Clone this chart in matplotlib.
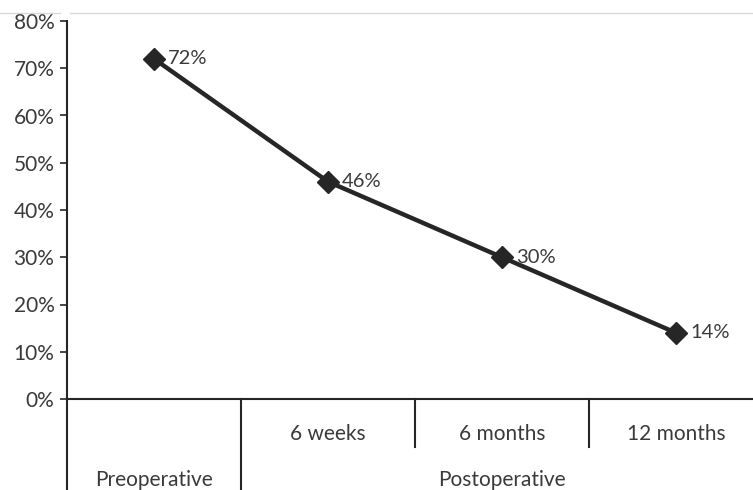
import matplotlib
matplotlib.use("Agg")
import matplotlib.pyplot as plt
from matplotlib.lines import Line2D
from matplotlib.transforms import blended_transform_factory

periods = ["Preoperative", "6 weeks", "6 months", "12 months"]
values = [72, 46, 30, 14]
group_labels = ["Preoperative", "Postoperative"]
yticks = [0, 10, 20, 30, 40, 50, 60, 70, 80]

plt.rcParams['font.family'] = ['Lato', 'DejaVu Sans']
text_color = "#3a3a3a"
line_color = "#262626"
fs = 15

W, H = 753, 490
fig = plt.figure(figsize=(W / 100, H / 100), dpi=100)
ax = fig.add_axes([67 / W, 1 - 399 / H, 696 / W, 378 / H])

x = list(range(len(periods)))
ax.plot(x, values, color=line_color, lw=3.2, marker="D", markersize=11.5,
        markerfacecolor=line_color, markeredgecolor=line_color, clip_on=False, zorder=3)
for xi, v in zip(x, values):
    ax.annotate(f"{v}%", (xi, v), xytext=(10, 0), textcoords="offset points",
                ha="left", va="center", fontsize=fs - 0.5, color=text_color)

ax.set_xlim(-0.5, len(periods) - 0.5)
ax.set_ylim(0, 80)
ax.set_yticks(yticks)
ax.set_yticklabels([f"{t}%" for t in yticks], fontsize=fs, color=text_color)
ax.tick_params(axis="y", direction="out", length=5, width=1.2, color=line_color, pad=4)
ax.set_xticks([])
for s in ["top", "right"]:
    ax.spines[s].set_visible(False)
ax.spines["left"].set_linewidth(1.5)
ax.spines["left"].set_color(line_color)
ax.spines["bottom"].set_linewidth(1.5)
ax.spines["bottom"].set_color(line_color)

# Category axis: dividers and two-level labels below the plot
tr = blended_transform_factory(ax.transData, fig.transFigure)
y0 = 1 - 399 / H
y_mid = 1 - 447 / H
for b in [-0.5, 0.5]:
    fig.add_artist(Line2D([b, b], [0, y0], transform=tr, color=line_color, lw=1.5))
for b in [1.5, 2.5]:
    fig.add_artist(Line2D([b, b], [y_mid, y0], transform=tr, color=line_color, lw=1.5))
for xi, lab in zip(x[1:], periods[1:]):
    fig.text(xi, 1 - 434 / H, lab, transform=tr, ha="center", va="center",
             fontsize=fs, color=text_color)
fig.text(0, 1 - 480 / H, group_labels[0], transform=tr, ha="center", va="center",
         fontsize=fs, color=text_color)
fig.text(2, 1 - 480 / H, group_labels[1], transform=tr, ha="center", va="center",
         fontsize=fs, color=text_color)

# faint rule along the top edge
fig.add_artist(Line2D([0, 60 / W], [1 - 13 / H] * 2, transform=fig.transFigure, color="#d9d9d9", lw=1))
fig.add_artist(Line2D([70 / W, 1], [1 - 13 / H] * 2, transform=fig.transFigure, color="#d9d9d9", lw=1))

fig.savefig("out.png", dpi=100)
